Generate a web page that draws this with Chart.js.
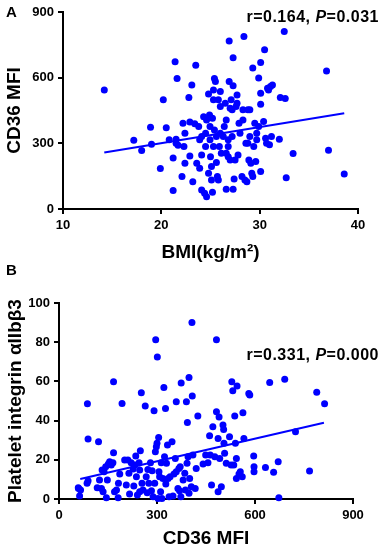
<!DOCTYPE html>
<html>
<head>
<meta charset="utf-8">
<script src="https://cdn.jsdelivr.net/npm/chart.js@4/dist/chart.umd.min.js"></script>
<style>
  body { margin: 0; background: #fff; }
  #wrap { position: relative; width: 383px; height: 550px; }
  canvas { position: absolute; left: 0; }
  .panel { position: absolute; left: 6px; font: bold 15px "Liberation Sans", Arial, sans-serif; color: #000; }
</style>
</head>
<body>
<div id="wrap">
  <canvas id="chartA" width="383" height="270" style="top:0"></canvas>
  <canvas id="chartB" width="383" height="280" style="top:270px"></canvas>
  <div class="panel" style="top:3px">A</div>
  <div class="panel" style="top:261px">B</div>
</div>
<script>
// panel A: BMI vs CD36 MFI
const bmi = [14.2,17.2,18.0,18.9,19.0,19.9,20.2,20.5,20.8,21.2,
  21.2,21.4,21.5,21.6,21.5,21.7,22.1,22.2,22.3,22.4,
  22.4,22.8,22.9,22.9,23.1,23.2,23.4,23.5,23.6,23.8,
  23.9,23.9,24.1,24.1,24.3,24.1,24.4,24.5,24.5,24.6,
  24.6,24.8,24.8,24.9,24.95,24.95,25.0,25.1,25.1,25.2,
  25.2,25.3,25.3,25.4,25.5,25.3,25.4,25.6,25.6,25.7,
  25.8,25.8,25.9,26.0,26.0,26.0,26.1,26.3,26.4,26.5,
  26.6,26.6,26.8,26.8,26.8,26.9,27.0,27.0,27.1,26.6,
  26.9,27.2,27.2,27.3,27.3,27.3,27.4,27.5,27.6,27.7,
  27.7,27.8,27.9,28.0,28.2,28.3,28.3,28.4,28.5,28.6,
  28.7,28.8,28.8,28.9,29.0,29.0,29.1,29.2,29.3,29.3,
  29.4,29.5,29.6,29.7,29.7,29.9,29.9,30.5,30.1,30.1,
  30.1,30.1,30.4,30.6,30.7,30.8,30.9,31.0,31.1,31.2,
  31.3,32.0,32.1,32.5,32.6,32.7,33.4,36.8,37.0,38.6];
const cd36A = [544,314,267,374,296,185,499,371,316,85,
  233,673,319,596,300,291,148,392,285,209,
  346,509,397,242,567,125,389,657,209,377,
  316,186,87,331,422,247,72,285,346,407,
  56,163,525,430,377,316,239,194,133,76,
  415,499,285,596,583,544,361,331,212,148,
  133,499,285,468,346,537,255,331,377,483,
  255,407,316,285,239,583,224,460,499,90,
  767,453,331,90,691,563,137,224,468,521,
  483,247,392,346,148,407,453,788,133,300,
  125,453,300,224,331,453,209,163,644,148,
  285,392,217,346,316,377,598,727,669,529,
  479,171,400,323,300,552,544,293,560,331,
  567,319,509,811,505,143,253,630,268,160];
const fitAx = [14.2, 38.6];
const fitAy = [258, 437];

// panel B: CD36 MFI vs platelet integrin
const cd36B = [59,63,66,60,86,89,87,89,121,117,
  124,130,135,132,138,143,145,148,151,155,
  160,165,167,167,170,176,181,186,182,193,
  201,206,211,214,216,221,227,229,232,235,
  237,240,245,247,247,249,252,254,257,264,
  267,270,272,275,280,283,285,288,291,293,
  295,296,298,300,301,303,305,306,308,311,
  313,315,318,321,323,326,327,329,332,334,
  337,340,346,349,352,356,359,359,364,367,
  369,371,373,374,380,385,387,390,392,393,
  395,398,398,400,405,407,408,410,417,420,
  425,441,449,456,461,463,467,471,477,482,
  482,487,487,490,492,497,502,504,505,507,
  512,522,527,529,532,535,538,540,543,543,
  545,551,555,561,563,566,581,584,596,597,
  597,632,645,657,671,673,691,724,767,789,
  813];
const integrin = [5.8,1.5,4.6,5.4,8.0,9.3,48.6,30.6,29.2,5.8,
  9.7,5.4,3.7,14.8,13.9,16.5,0.7,9.7,17.8,19.0,
  17.3,18.5,23.6,59.8,3.7,4.6,0.7,12.7,8.0,48.7,
  19.9,7.1,19.9,13.1,2.5,18.5,15.3,6.6,17.3,21.9,
  11.4,2.0,18.5,14.8,3.7,24.6,54.2,8.0,4.6,47.5,
  11.4,3.2,15.1,8.0,18.5,4.2,14.4,1.2,45.0,8.0,
  24.1,81.3,26.7,28.4,72.5,0.3,31.4,13.9,11.4,3.7,
  18.5,0.3,10.5,56.9,21.6,46.2,7.6,18.2,27.5,10.5,
  1.2,11.4,29.2,1.5,12.7,20.7,49.6,13.9,5.4,15.6,
  4.2,16.5,1.2,59.2,9.7,13.1,4.6,49.6,18.2,39.0,
  21.6,62.0,2.9,10.5,6.3,90.0,52.5,22.4,5.4,15.6,
  42.3,17.8,22.4,18.5,32.3,22.4,7.1,36.8,21.6,44.5,
  81.3,3.7,30.9,41.9,20.7,6.3,37.7,35.5,28.4,23.3,
  18.2,31.7,17.3,59.8,55.2,17.3,42.3,28.4,20.7,10.5,
  57.6,12.7,13.9,11.4,44.0,30.9,53.8,53.0,21.9,16.5,
  13.9,16.1,59.4,13.6,19.0,0.7,61.1,34.3,14.3,54.5,
  48.6];
const fitBx = [65, 811];
const fitBy = [10.2, 38.9];

const FONT = '"Liberation Sans", Arial, sans-serif';
const BLUE = "#0000ff";

function pairs(xs, ys) {
  return xs.map((x, i) => ({ x: x, y: ys[i] }));
}

// r / P text, right aligned, italic P
function statsPlugin(rText, pText, y) {
  return {
    id: "stats",
    afterDraw(chart) {
      const ctx = chart.ctx;
      ctx.save();
      ctx.fillStyle = "#000";
      ctx.textBaseline = "middle";
      ctx.textAlign = "left";
      ctx.letterSpacing = "0.5px";
      const bold = "bold 16px " + FONT;
      const ital = "italic bold 16px " + FONT;
      ctx.font = bold;
      const w1 = ctx.measureText(rText).width;
      const w3 = ctx.measureText(pText).width;
      ctx.font = ital;
      const w2 = ctx.measureText("P").width;
      let x = 379 - (w1 + w2 + w3);
      ctx.font = bold;
      ctx.fillText(rText, x, y);
      x += w1;
      ctx.font = ital;
      ctx.fillText("P", x, y);
      x += w2;
      ctx.font = bold;
      ctx.fillText(pText, x, y);
      ctx.restore();
    }
  };
}

function axis(min, max, step, title, titlePad, size) {
  return {
    type: "linear",
    min: min,
    max: max,
    ticks: { stepSize: step, color: "#000", padding: 4, font: { family: FONT, size: 13, weight: "bold" } },
    grid: { display: true, drawOnChartArea: false, drawTicks: true, tickLength: 5, color: "#000", lineWidth: 2, tickWidth: 2 },
    border: { display: true, color: "#000", width: 2 },
    title: { display: true, text: title, color: "#000", padding: titlePad, font: { family: FONT, size: 19, weight: "bold" } },
    afterFit(scale) {
      if (scale.isHorizontal()) scale.height = size;
      else scale.width = size;
    }
  };
}

function makeChart(id, pts, fx, fy, xAx, yAx, pad, stats) {
  return new Chart(document.getElementById(id), {
    type: "scatter",
    data: {
      datasets: [
        {
          data: pts,
          backgroundColor: BLUE,
          borderColor: BLUE,
          pointRadius: 3.5,
          pointHoverRadius: 3.5,
          borderWidth: 0,
          clip: false
        },
        {
          type: "line",
          data: pairs(fx, fy),
          borderColor: BLUE,
          borderWidth: 2,
          pointRadius: 0,
          fill: false
        }
      ]
    },
    options: {
      responsive: false,
      animation: false,
      layout: { padding: pad },
      plugins: { legend: { display: false }, tooltip: { enabled: false } },
      scales: { x: xAx, y: yAx }
    },
    plugins: [stats]
  });
}

makeChart("chartA", pairs(bmi, cd36A), fitAx, fitAy,
  axis(10, 40, 10, "BMI(kg/m\u00b2)", { top: 0, bottom: 6 }, 61),
  axis(0, 900, 300, "CD36 MFI", { top: 3, bottom: 0 }, 63),
  { top: 12, right: 25, left: 0, bottom: 0 },
  statsPlugin("r=0.164, ", "=0.031", 18));

makeChart("chartB", pairs(cd36B, integrin), fitBx, fitBy,
  axis(0, 900, 300, "CD36 MFI", { top: 0, bottom: 0 }, 51),
  axis(0, 100, 20, "Platelet integrin \u03b1IIb\u03b23", { top: 4, bottom: 0 }, 59),
  { top: 33, right: 30, left: 0, bottom: 0 },
  statsPlugin("r=0.331, ", "=0.000", 86));
</script>
</body>
</html>
